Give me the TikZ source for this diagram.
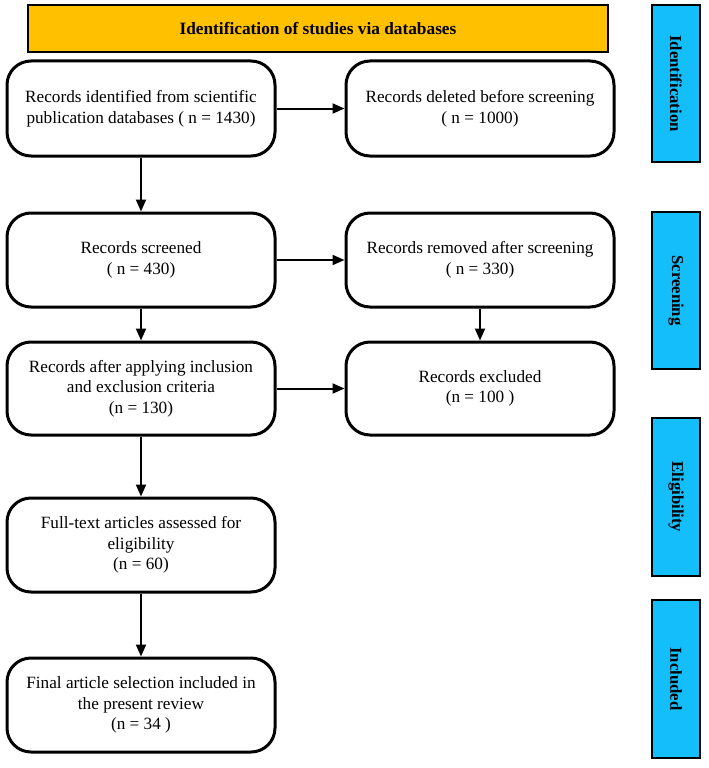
\documentclass[tikz,border=0pt]{standalone}
\usepackage{fontspec}
\setmainfont{Liberation Serif}
\usetikzlibrary{arrows.meta}
\definecolor{hdrorange}{RGB}{255,192,0}
\definecolor{sideblue}{RGB}{20,190,250}
\begin{document}
\begin{tikzpicture}[x=1pt,y=-1pt,
  flowbox/.style={draw=black,line width=3pt,fill=white,rounded corners=24pt,
    minimum width=268pt,minimum height=94pt,inner sep=0pt,align=center,
    font=\fontsize{17.2}{20.7}\selectfont},
  sidebox/.style={draw=black,line width=1.8pt,fill=sideblue,minimum width=48pt,
    inner sep=0pt,font=\fontsize{16.7}{20}\selectfont\bfseries},
  flowarrow/.style={line width=2pt,-{Triangle[length=12pt,width=10pt]}}]
\useasboundingbox (0,0) rectangle (709,768);
\fill[white] (0,0) rectangle (709,768);
% header
\node[draw=black,line width=1.8pt,fill=hdrorange,minimum width=580pt,minimum height=47pt,
  inner sep=0pt,font=\fontsize{17.3}{20}\selectfont\bfseries] (hdr) at (318,28.5)
  {Identification of studies via databases};
% side boxes
\node[sidebox,minimum height=157pt] (sid) at (676,83.5) {\rotatebox{-90}{Identification}};
\node[sidebox,minimum height=157pt] (sscr) at (676,290.5) {\rotatebox{-90}{Screening}};
\node[sidebox,minimum height=158pt] (selig) at (676,497) {\rotatebox{-90}{Eligibility}};
\node[sidebox,minimum height=158pt] (sinc) at (676,679) {\rotatebox{-90}{Included}};
% left column
\node[flowbox,minimum height=95pt] (b1) at (141,108.5) {Records identified from scientific\\publication databases ( n = 1430)};
\node[flowbox] (b2) at (141,260) {Records screened\\( n = 430)};
\node[flowbox,minimum height=93pt] (b3) at (141,388.5) {Records after applying inclusion\\and exclusion criteria\\(n = 130)};
\node[flowbox] (b4) at (141,545) {Full-text articles assessed for\\eligibility\\(n = 60)};
\node[flowbox] (b5) at (141,705) {Final article selection included in\\the present review\\(n = 34 )};
% right column
\node[flowbox,minimum height=95pt] (r1) at (480,108.5) {Records deleted before screening\\( n = 1000)};
\node[flowbox] (r2) at (480,260) {Records removed after screening\\( n = 330)};
\node[flowbox,minimum height=93pt] (r3) at (480,388.5) {Records excluded\\(n = 100 )};
% arrows
\draw[flowarrow] (b1) -- (r1);
\draw[flowarrow] (b2) -- (r2);
\draw[flowarrow] (b3) -- (r3);
\draw[flowarrow] (b1) -- (b2);
\draw[flowarrow] (b2) -- (b3);
\draw[flowarrow] (b3) -- (b4);
\draw[flowarrow] (b4) -- (b5);
\draw[flowarrow] (r2) -- (r3);
\end{tikzpicture}
\end{document}
